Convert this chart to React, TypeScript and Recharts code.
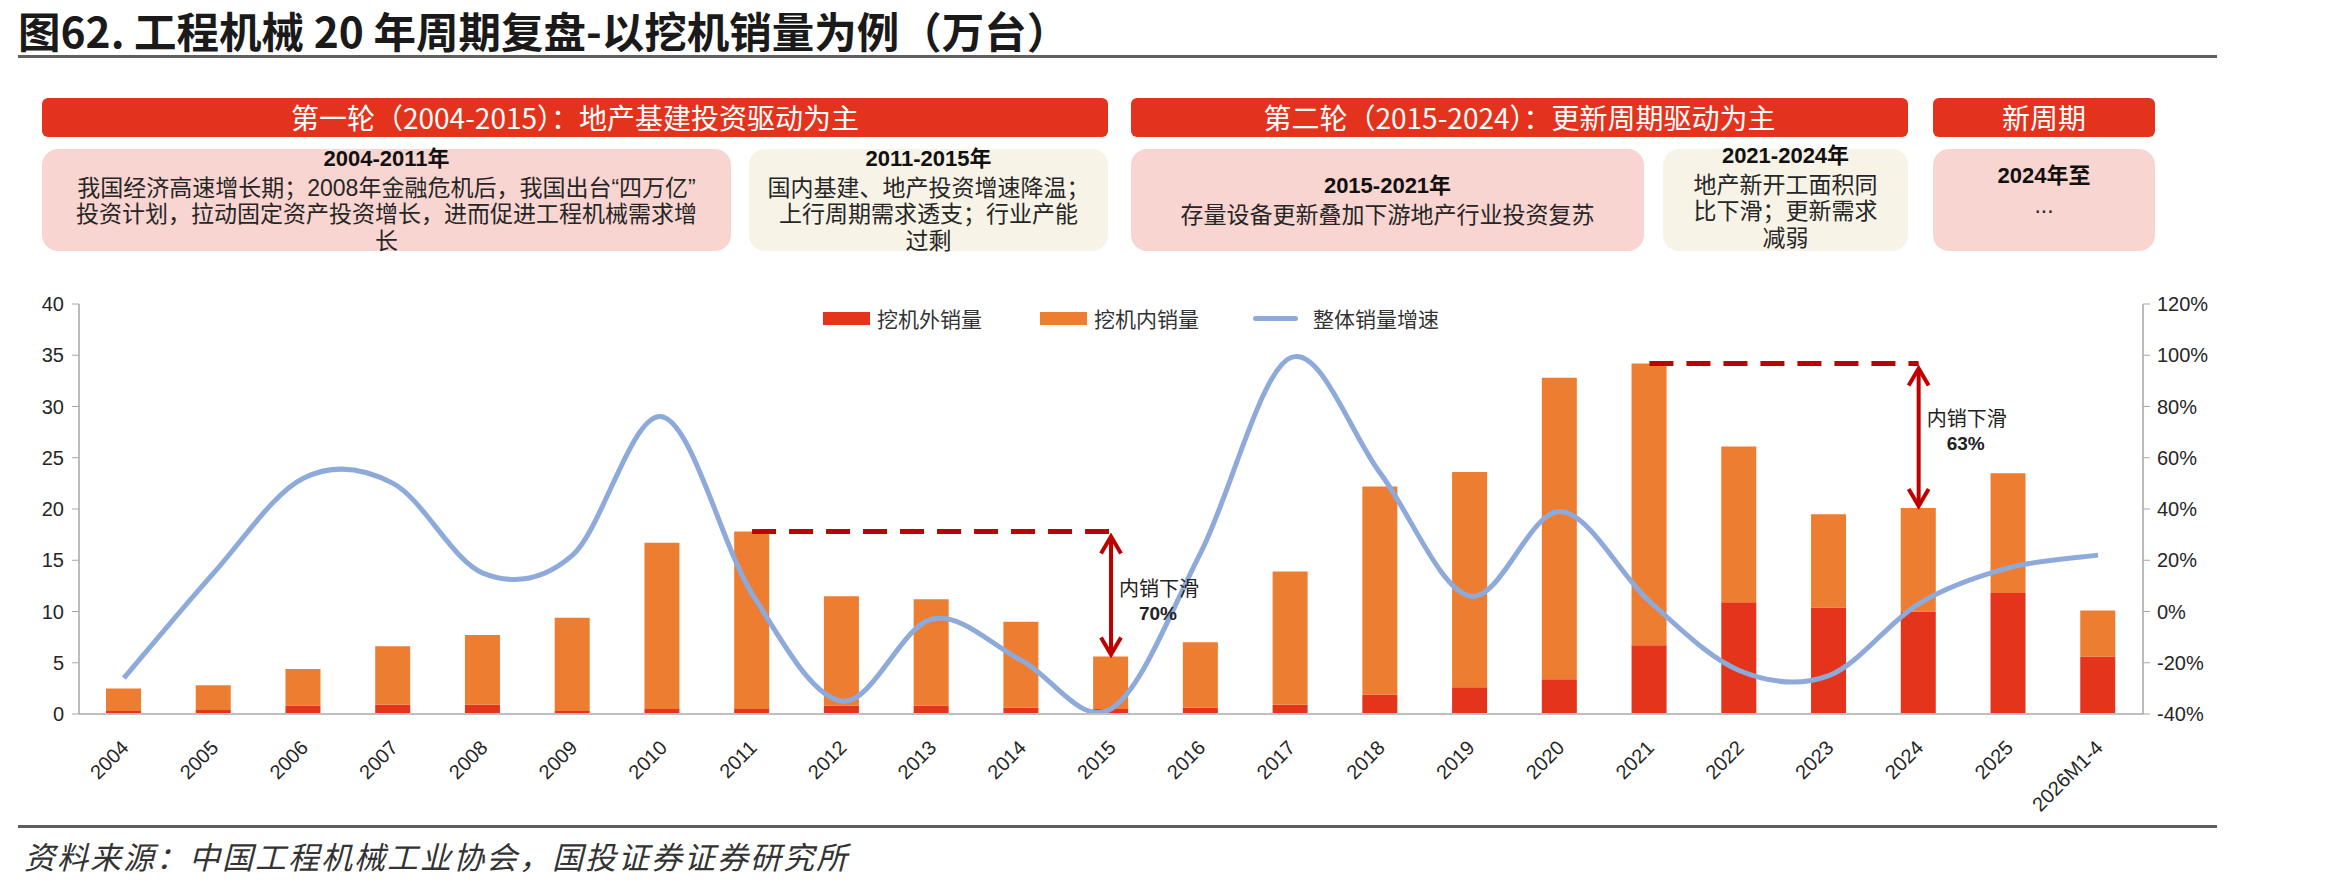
import React from "react";
import { ComposedChart, Bar, Line, XAxis, YAxis, ReferenceLine } from "recharts";

// 挖机销量（万台）与整体增速
const years = [
  "2004", "2005", "2006", "2007", "2008", "2009", "2010", "2011", "2012", "2013", "2014", "2015",
  "2016", "2017", "2018", "2019", "2020", "2021", "2022", "2023", "2024", "2025", "2026M1-4",
];
const exportSales = [0.3, 0.4, 0.8, 0.9, 0.9, 0.3, 0.5, 0.5, 0.8, 0.8, 0.6, 0.5, 0.6, 0.9, 1.9, 2.6, 3.4, 6.7, 10.9, 10.4, 10.0, 11.8, 5.6];
const domesticSales = [2.2, 2.4, 3.6, 5.7, 6.8, 9.1, 16.2, 17.3, 10.7, 10.4, 8.4, 5.1, 6.4, 13.0, 20.3, 21.0, 29.4, 27.5, 15.2, 9.1, 10.1, 11.7, 4.5];
const totalGrowth = [-26, 15, 52, 50, 15, 22, 76, 7, -35, -3, -19, -38, 23, 99, 54, 6, 39, 4, -23, -25, 3, 17, 22];

const leftTicks = [0, 5, 10, 15, 20, 25, 30, 35, 40];
const rightTicks = [-40, -20, 0, 20, 40, 60, 80, 100, 120];

const seriesNames = ["挖机外销量", "挖机内销量", "整体销量增速"];

const chartTitle = "图62. 工程机械 20 年周期复盘-以挖机销量为例（万台）";
const sourceNote = "资料来源：中国工程机械工业协会，国投证券证券研究所";

const phaseTitles = [
  "第一轮（2004-2015）：地产基建投资驱动为主",
  "第二轮（2015-2024）：更新周期驱动为主",
  "新周期",
];
const stageTitles = ["2004-2011年", "2011-2015年", "2015-2021年", "2021-2024年", "2024年至"];
const stageNotes = [
  ["我国经济高速增长期；2008年金融危机后，我国出台“四万亿”", "投资计划，拉动固定资产投资增长，进而促进工程机械需求增", "长"],
  ["国内基建、地产投资增速降温；", "上行周期需求透支；行业产能", "过剩"],
  ["存量设备更新叠加下游地产行业投资复苏"],
  ["地产新开工面积同", "比下滑；更新需求", "减弱"],
  ["..."],
];

// 内销下滑标注：起点年份、终点年份、降幅
const declineFrom = ["2011", "2021"];
const declineTo = ["2015", "2024"];
const declineText = ["70%", "63%"];
const declineCaption = "内销下滑";

const RED = "#E5341C";
const ORANGE = "#ED7D31";
const BLUE = "#8EAADB";
const DARK_RED = "#C00000";
const CJK = '"Noto Sans CJK SC", "Noto Sans", sans-serif';
// latin metrics first so stacked lines keep tight boxes; CJK glyphs fall back
const TIGHT = '"Liberation Sans", "Noto Sans CJK SC", sans-serif';
const NUM = '"Liberation Sans", Arial, sans-serif';

const rows = years.map((year, i) => ({
  year,
  export: exportSales[i],
  domestic: domesticSales[i],
  growth: totalGrowth[i],
}));

const totalOf = (year: string) => {
  const i = years.indexOf(year);
  return +(exportSales[i] + domesticSales[i]).toFixed(1);
};

// layout of the header blocks
const phaseBoxes = [
  { left: 42, width: 1066 },
  { left: 1131, width: 777 },
  { left: 1933, width: 222 },
];
const stageBoxes = [
  { left: 42, width: 689, bg: "#F8D5D0", top: 158 },
  { left: 749, width: 359, bg: "#F7F3E7", top: 158 },
  { left: 1131, width: 513, bg: "#F8D5D0", top: 185 },
  { left: 1663, width: 245, bg: "#F7F3E7", top: 155 },
  { left: 1933, width: 222, bg: "#F8D5D0", top: 175 },
];
const legendX = [823, 1040, 1253];
const captionShift = [-8, -20];

// Excel-style smoothed line: Bézier segments with Catmull-Rom control points
const smoothCurve = (ctx: any) => {
  let pts: number[][] = [];
  return {
    areaStart() {},
    areaEnd() {},
    lineStart() {
      pts = [];
    },
    point(x: number, y: number) {
      pts.push([+x, +y]);
    },
    lineEnd() {
      if (!pts.length) return;
      ctx.moveTo(pts[0][0], pts[0][1]);
      for (let i = 0; i < pts.length - 1; i++) {
        const p0 = pts[Math.max(i - 1, 0)];
        const p1 = pts[i];
        const p2 = pts[i + 1];
        const p3 = pts[Math.min(i + 2, pts.length - 1)];
        ctx.bezierCurveTo(
          p1[0] + (p2[0] - p0[0]) / 6,
          p1[1] + (p2[1] - p0[1]) / 6,
          p2[0] - (p3[0] - p1[0]) / 6,
          p2[1] - (p3[1] - p1[1]) / 6,
          p2[0],
          p2[1]
        );
      }
    },
  };
};

const YearTick = ({ x, y, payload }: any) => (
  <g transform={`translate(${x + 6},${y + 35}) rotate(-45)`}>
    <text x={0} y={0} textAnchor="end" fontSize={20} fontFamily={NUM} fill="#262626">
      {payload.value}
    </text>
  </g>
);

const DeclineArrow = ({ x1, y1, y2, label, shift }: any) => {
  const top = Math.min(y1, y2) + 5;
  const bottom = Math.max(y1, y2) - 2;
  const mid = (top + bottom) / 2;
  return (
    <g>
      <line x1={x1} x2={x1} y1={top + 1} y2={bottom - 1} stroke={DARK_RED} strokeWidth={4} />
      <polyline points={`${x1 - 10},${top + 17} ${x1},${top} ${x1 + 10},${top + 17}`} fill="none" stroke={DARK_RED} strokeWidth={4} />
      <polyline points={`${x1 - 10},${bottom - 17} ${x1},${bottom} ${x1 + 10},${bottom - 17}`} fill="none" stroke={DARK_RED} strokeWidth={4} />
      <text x={x1 + 48} y={mid + shift} textAnchor="middle" dominantBaseline="central" fontSize={20} fontFamily={CJK} fill="#222">
        {declineCaption}
      </text>
      <text x={x1 + 47} y={mid + shift + 26} textAnchor="middle" dominantBaseline="central" fontSize={19} fontWeight="bold" fontFamily={NUM} fill="#222">
        {label}
      </text>
    </g>
  );
};

export default function App() {
  return (
    <div style={{ position: "absolute", left: 0, top: 0, width: 2339, height: 886, background: "#fff", fontFamily: CJK, overflow: "hidden" }}>
      <div style={{ position: "absolute", left: 18, top: 7, fontSize: 42.5, lineHeight: "46px", fontWeight: 700, color: "#1a1a1a", whiteSpace: "nowrap" }}>
        {chartTitle}
      </div>
      <div style={{ position: "absolute", left: 18, top: 55, width: 2199, height: 3, background: "#5f5f5f" }} />

      {phaseTitles.map((t, i) => (
        <div
          key={t}
          style={{
            position: "absolute",
            left: phaseBoxes[i].left,
            top: 98,
            width: phaseBoxes[i].width,
            height: 39,
            borderRadius: 6,
            background: "#E3331C",
            color: "#fff",
            fontSize: 28,
            lineHeight: "39px",
            textAlign: "center",
            whiteSpace: "nowrap",
          }}
        >
          {t}
        </div>
      ))}

      {stageTitles.map((t, i) => (
        <React.Fragment key={t}>
          <div
            style={{
              position: "absolute",
              left: stageBoxes[i].left,
              top: 149,
              width: stageBoxes[i].width,
              height: 102,
              borderRadius: 16,
              background: stageBoxes[i].bg,
            }}
          />
          <div
            style={{
              position: "absolute",
              left: stageBoxes[i].left,
              top: stageBoxes[i].top - 13.5,
              width: stageBoxes[i].width,
              textAlign: "center",
              color: "#262626",
              whiteSpace: "nowrap",
              fontFamily: TIGHT,
            }}
          >
            <div style={{ fontSize: 22, fontWeight: 700, lineHeight: "27px", marginBottom: 3, color: "#111" }}>{t}</div>
            {stageNotes[i].map((line) => (
              <div key={line} style={{ fontSize: 23, lineHeight: "26.5px" }}>
                {line}
              </div>
            ))}
          </div>
        </React.Fragment>
      ))}

      <div style={{ position: "absolute", left: 0, top: 260 }}>
        <ComposedChart width={2339} height={580} data={rows} margin={{ top: 44, right: 0, bottom: 0, left: 0 }}>
          <XAxis
            dataKey="year"
            interval={0}
            height={126}
            tickLine={false}
            tickSize={0}
            tickMargin={0}
            axisLine={{ stroke: "#BFBFBF", strokeWidth: 2 }}
            tick={<YearTick />}
          />
          <YAxis
            yAxisId="left"
            width={79}
            domain={[0, 40]}
            ticks={leftTicks}
            interval={0}
            axisLine={{ stroke: "#A6A6A6", strokeWidth: 1.5 }}
            tickLine={{ stroke: "#A6A6A6" }}
            tickSize={7}
            tickMargin={8}
            tick={{ fontSize: 20, fontFamily: NUM, fill: "#262626" }}
          />
          <YAxis
            yAxisId="right"
            orientation="right"
            width={196}
            domain={[-40, 120]}
            ticks={rightTicks}
            interval={0}
            tickFormatter={(v) => `${v}%`}
            axisLine={{ stroke: "#A6A6A6", strokeWidth: 1.5 }}
            tickLine={{ stroke: "#A6A6A6" }}
            tickSize={7}
            tickMargin={7}
            tick={{ fontSize: 20, fontFamily: NUM, fill: "#262626" }}
          />
          <Bar yAxisId="left" dataKey="export" name={seriesNames[0]} stackId="sales" fill={RED} barSize={35} isAnimationActive={false} />
          <Bar yAxisId="left" dataKey="domestic" name={seriesNames[1]} stackId="sales" fill={ORANGE} barSize={35} isAnimationActive={false} />
          <Line
            yAxisId="right"
            dataKey="growth"
            name={seriesNames[2]}
            type={smoothCurve as any}
            stroke={BLUE}
            strokeWidth={5}
            dot={false}
            activeDot={false}
            isAnimationActive={false}
          />
          {declineFrom.map((from, k) => (
            <ReferenceLine
              key={`level-${from}`}
              yAxisId="left"
              segment={[
                { x: from, y: totalOf(from) },
                { x: declineTo[k], y: totalOf(from) },
              ]}
              stroke={DARK_RED}
              strokeWidth={5}
              strokeDasharray="24 13"
              ifOverflow="visible"
            />
          ))}
          {declineFrom.map((from, k) => (
            <ReferenceLine
              key={`drop-${from}`}
              yAxisId="left"
              segment={[
                { x: declineTo[k], y: totalOf(from) },
                { x: declineTo[k], y: totalOf(declineTo[k]) },
              ]}
              ifOverflow="visible"
              shape={(p: any) => <DeclineArrow {...p} label={declineText[k]} shift={captionShift[k]} />}
            />
          ))}
        </ComposedChart>
      </div>

      {seriesNames.map((name, i) => (
        <div key={name} style={{ position: "absolute", left: legendX[i], top: 304, height: 28, display: "flex", alignItems: "center", whiteSpace: "nowrap" }}>
          {i < 2 ? (
            <div style={{ width: 47, height: 13, background: i === 0 ? RED : ORANGE }} />
          ) : (
            <div style={{ width: 45, height: 5, borderRadius: 3, background: BLUE }} />
          )}
          <span style={{ marginLeft: i === 2 ? 15 : 7, fontSize: 21, color: "#333" }}>{name}</span>
        </div>
      ))}

      <div style={{ position: "absolute", left: 18, top: 825, width: 2199, height: 3, background: "#5f5f5f" }} />
      <div style={{ position: "absolute", left: 24, top: 837, fontSize: 31, lineHeight: "38px", letterSpacing: 2, fontStyle: "italic", color: "#333", whiteSpace: "nowrap" }}>
        {sourceNote}
      </div>
    </div>
  );
}
